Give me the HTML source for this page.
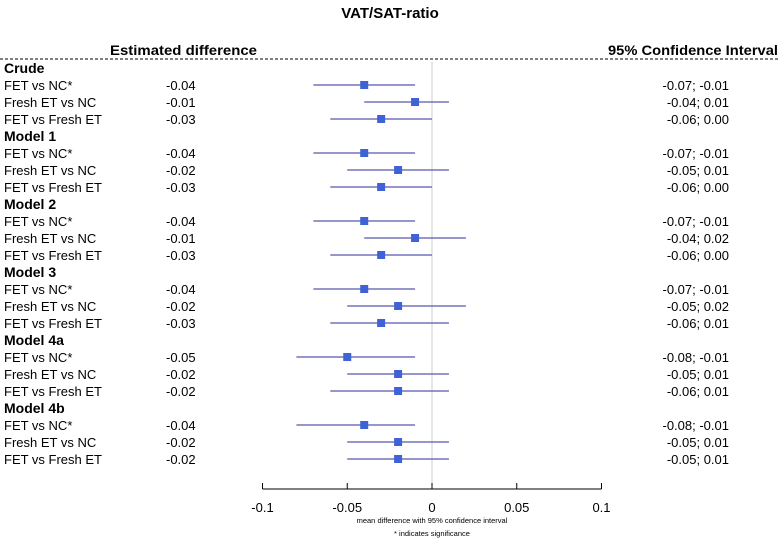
<!DOCTYPE html>
<html><head><meta charset="utf-8"><style>
body{margin:0;background:#fff;width:780px;height:539px;overflow:hidden;font-family:"Liberation Sans",Arial,sans-serif}
svg text{font-family:"Liberation Sans",Arial,sans-serif}
</style></head><body>
<svg id="chart" width="780" height="539" viewBox="0 0 780 539" xmlns="http://www.w3.org/2000/svg">
<text x="390" y="18" text-anchor="middle" font-size="15" font-weight="bold">VAT/SAT-ratio</text>
<text x="110" y="55" font-size="14" font-weight="bold" textLength="147" lengthAdjust="spacingAndGlyphs">Estimated difference</text>
<text x="608" y="55" font-size="14" font-weight="bold" textLength="170" lengthAdjust="spacingAndGlyphs">95% Confidence Interval</text>
<line x1="0" y1="59" x2="780" y2="59" stroke="#000" stroke-width="1" stroke-dasharray="3,2"/>
<line x1="432" y1="62" x2="432" y2="487" stroke="#ccc" stroke-width="1"/>
<g id="rows"></g>
<g id="axis"></g>
<text x="432" y="523" text-anchor="middle" font-size="7.5">mean difference with 95% confidence interval</text>
<text x="432" y="536" text-anchor="middle" font-size="7.5">* indicates significance</text>
</svg>
<script>
const groups = ["Crude","Model 1","Model 2","Model 3","Model 4a","Model 4b"];
const comparisons = ["FET vs NC*","Fresh ET vs NC","FET vs Fresh ET"];
const estimates = [[-0.04,-0.01,-0.03],[-0.04,-0.02,-0.03],[-0.04,-0.01,-0.03],[-0.04,-0.02,-0.03],[-0.05,-0.02,-0.02],[-0.04,-0.02,-0.02]];
const lowers = [[-0.07,-0.04,-0.06],[-0.07,-0.05,-0.06],[-0.07,-0.04,-0.06],[-0.07,-0.05,-0.06],[-0.08,-0.05,-0.06],[-0.08,-0.05,-0.05]];
const uppers = [[-0.01,0.01,0.00],[-0.01,0.01,0.00],[-0.01,0.02,0.00],[-0.01,0.02,0.01],[-0.01,0.01,0.01],[-0.01,0.01,0.01]];
const ticks = [-0.1,-0.05,0,0.05,0.1];
const tickLabels = ["-0.1","-0.05","0","0.05","0.1"];

const NS="http://www.w3.org/2000/svg";
const xs = v => 432 + v*1695;
function mk(tag, attrs, parent, txt){const e=document.createElementNS(NS,tag);for(const k in attrs)e.setAttribute(k,attrs[k]);if(txt!==undefined)e.textContent=txt;parent.appendChild(e);return e;}
const fmt = v => { const s=v.toFixed(2); return s==="-0.00"?"0.00":s; };
const rows=document.getElementById('rows');
groups.forEach((g,gi)=>{
  const gy = 73 + gi*68;
  const gt = mk('text',{x:4,y:gy,'font-size':14,'font-weight':'bold'},rows,g);
  
  
  comparisons.forEach((c,ci)=>{
    const cy = gy + 16 + ci*17;
    const lt = mk('text',{x:4,y:cy+1,'font-size':13},rows,c);
    
    
    const vt = mk('text',{x:166,y:cy+1,'font-size':13},rows,fmt(estimates[gi][ci]));
    
    
    const ct = mk('text',{x:729,y:cy+1,'font-size':13,'text-anchor':'end'},rows,fmt(lowers[gi][ci])+"; "+fmt(uppers[gi][ci]));
    
    
    const ln = mk('line',{x1:xs(lowers[gi][ci]),x2:xs(uppers[gi][ci]),y1:cy-4,y2:cy-4,stroke:'#7373b8','stroke-width':1.5},rows);
    
    
    const pt = mk('rect',{x:xs(estimates[gi][ci])-4,y:cy-8,width:8,height:8,fill:'#3f63d6'},rows);
    
    
  });
});
const ax=document.getElementById('axis');
mk('line',{x1:xs(-0.1),x2:xs(0.1),y1:489,y2:489,stroke:'#000','stroke-width':1},ax);
ticks.forEach((t,i)=>{
  mk('line',{x1:xs(t),x2:xs(t),y1:483,y2:489,stroke:'#000','stroke-width':1},ax);
  const tl = mk('text',{x:xs(t),y:512,'font-size':13,'text-anchor':'middle'},ax,tickLabels[i]);
  
  
});
</script>
</body></html>
